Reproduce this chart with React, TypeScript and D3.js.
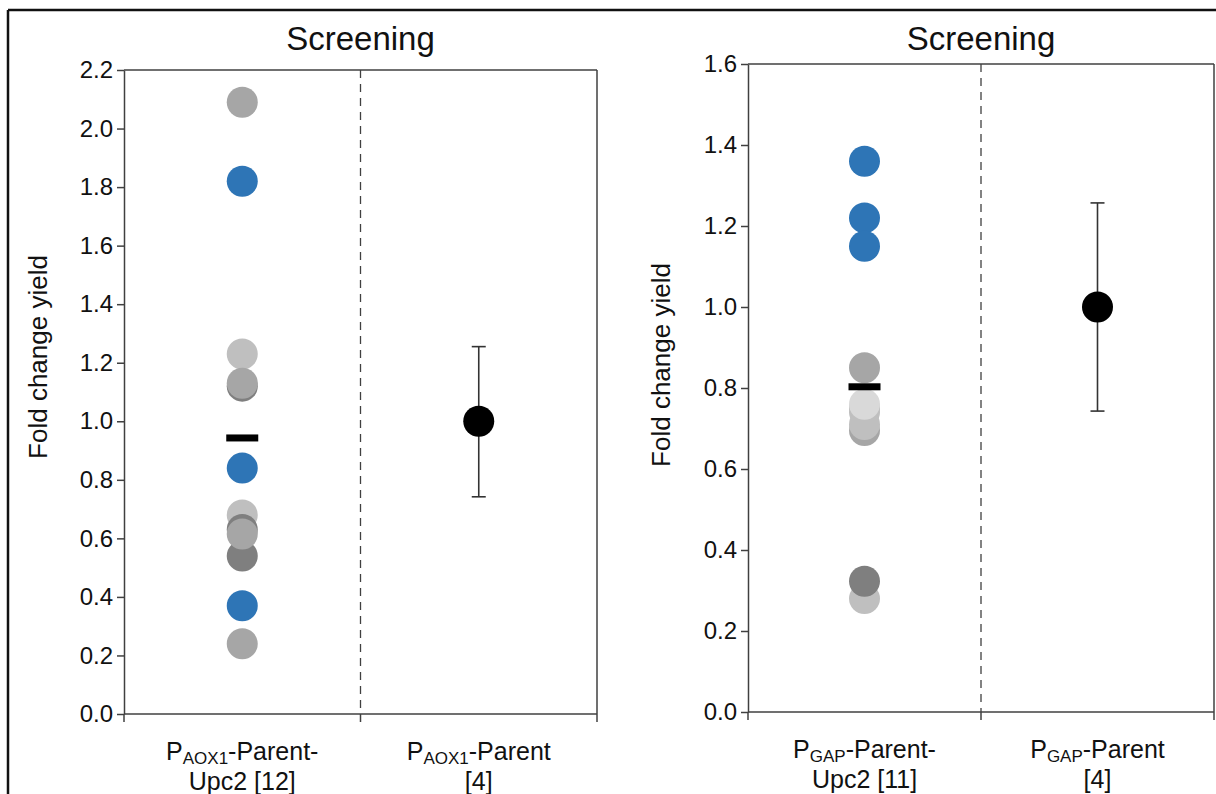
import React, { useEffect, useRef } from 'react';
import * as d3 from 'd3';

const W = 1216;
const H = 794;
const FONT = '"Liberation Sans", Arial, Helvetica, sans-serif';

const GRAY = '#a6a6a6';
const LIGHT = '#bfbfbf';
const PALE = '#d9d9d9';
const DARK = '#7f7f7f';
const BLUE = '#2e75b6';

// panel titles / labels
const panelTitles = ['Screening', 'Screening'];
const yAxisLabel = 'Fold change yield';

// left panel – P_AOX1
const aoxCategories = ['upc2', 'parent'];
const aoxTicks = [0, 0.2, 0.4, 0.6, 0.8, 1.0, 1.2, 1.4, 1.6, 1.8, 2.0, 2.2];
const aoxUpc2Values = [2.09, 1.82, 1.23, 1.12, 1.13, 0.84, 0.68, 0.54, 0.63, 0.615, 0.37, 0.24];
const aoxUpc2Colors = [GRAY, BLUE, LIGHT, DARK, GRAY, BLUE, LIGHT, DARK, DARK, GRAY, BLUE, GRAY];
const aoxUpc2Mean = 0.943;
const aoxParent = [1.0, 0.742, 1.255]; // mean, low, high
const aoxLabels = [['AOX1', '-Parent-', 'Upc2 [12]'], ['AOX1', '-Parent', '[4]']];

// right panel – P_GAP
const gapCategories = ['upc2', 'parent'];
const gapTicks = [0, 0.2, 0.4, 0.6, 0.8, 1.0, 1.2, 1.4, 1.6];
const gapUpc2Values = [1.36, 1.22, 1.15, 0.85, 0.74, 0.75, 0.695, 0.71, 0.76, 0.28, 0.323];
const gapUpc2Colors = [BLUE, BLUE, BLUE, GRAY, LIGHT, LIGHT, GRAY, LIGHT, PALE, LIGHT, DARK];
const gapUpc2Mean = 0.803;
const gapParent = [1.0, 0.743, 1.257];
const gapLabels = [['GAP', '-Parent-', 'Upc2 [11]'], ['GAP', '-Parent', '[4]']];

function drawPanel(svg, p) {
  const { x0, x1, top, bottom, max, ticks, cats, values, colors, mean, parent, labels, title, ylabelX, ylabelY } = p;
  const axisColor = '#404040';
  const g = svg.append('g');

  const x = d3.scaleBand().domain(cats).range([x0, x1]).padding(0);
  const y = d3.scaleLinear().domain([0, max]).range([bottom, top]);
  const cx = (c) => x(c) + x.bandwidth() / 2;

  // title
  g.append('text')
    .attr('x', (x0 + x1) / 2)
    .attr('y', 50)
    .attr('text-anchor', 'middle')
    .attr('font-size', 33)
    .attr('fill', '#111')
    .text(title);

  // y axis
  const yAxis = d3.axisLeft(y).tickValues(ticks).tickSize(7).tickSizeOuter(0).tickFormat(d3.format('.1f'));
  g.append('g')
    .attr('transform', `translate(${x0},0)`)
    .call(yAxis)
    .call(a => {
      a.select('.domain').attr('stroke', axisColor).attr('stroke-width', 1.5);
      a.selectAll('.tick line').attr('stroke', axisColor).attr('stroke-width', 1.5);
      a.selectAll('.tick text').attr('font-size', 24).attr('font-family', FONT).attr('fill', '#111').attr('x', -11);
    });

  // frame top / right
  g.append('line').attr('x1', x0).attr('x2', x1).attr('y1', top).attr('y2', top)
    .attr('stroke', axisColor).attr('stroke-width', 1.5);
  g.append('line').attr('x1', x1).attr('x2', x1).attr('y1', top).attr('y2', bottom)
    .attr('stroke', axisColor).attr('stroke-width', 1.5);

  // x axis with ticks at category boundaries
  g.append('line').attr('x1', x0).attr('x2', x1).attr('y1', bottom).attr('y2', bottom)
    .attr('stroke', axisColor).attr('stroke-width', 1.5);
  const bounds = [x0, ...cats.slice(1).map(c => x(c)), x1];
  bounds.forEach(b => {
    g.append('line').attr('x1', b).attr('x2', b).attr('y1', bottom).attr('y2', bottom + 8)
      .attr('stroke', axisColor).attr('stroke-width', 1.5);
  });

  // dashed divider
  cats.slice(1).forEach(c => {
    g.append('line').attr('x1', x(c)).attr('x2', x(c)).attr('y1', top).attr('y2', bottom)
      .attr('stroke', axisColor).attr('stroke-width', 1.3).attr('stroke-dasharray', '8,6');
  });

  // individual clones
  g.selectAll('circle.clone')
    .data(values)
    .enter()
    .append('circle')
    .attr('class', 'clone')
    .attr('cx', cx(cats[0]))
    .attr('cy', d => y(d))
    .attr('r', 15.5)
    .attr('fill', (d, i) => colors[i]);

  // mean bar
  g.append('rect')
    .attr('x', cx(cats[0]) - 16)
    .attr('y', y(mean) - 3.5)
    .attr('width', 32)
    .attr('height', 7)
    .attr('fill', '#000');

  // parent mean ± error
  const px = cx(cats[1]);
  const [pm, plo, phi] = parent;
  g.append('line').attr('x1', px).attr('x2', px).attr('y1', y(phi)).attr('y2', y(plo))
    .attr('stroke', '#333').attr('stroke-width', 1.6);
  [plo, phi].forEach(v => {
    g.append('line').attr('x1', px - 7).attr('x2', px + 7).attr('y1', y(v)).attr('y2', y(v))
      .attr('stroke', '#333').attr('stroke-width', 1.6);
  });
  g.append('circle').attr('cx', px).attr('cy', y(pm)).attr('r', 15.5).attr('fill', '#000');

  // category labels with subscript
  cats.forEach((c, i) => {
    const [sub, rest, line2] = labels[i];
    const t = g.append('text')
      .attr('x', cx(c))
      .attr('y', bottom + 46)
      .attr('text-anchor', 'middle')
      .attr('font-size', 25)
      .attr('fill', '#111');
    t.append('tspan').text('P');
    t.append('tspan').attr('font-size', 17).attr('dy', 4).text(sub);
    t.append('tspan').attr('dy', -4).text(rest);
    g.append('text')
      .attr('x', cx(c))
      .attr('y', bottom + 76)
      .attr('text-anchor', 'middle')
      .attr('font-size', 25)
      .attr('fill', '#111')
      .text(line2);
  });

  // y label
  g.append('text')
    .attr('transform', `translate(${ylabelX},${ylabelY}) rotate(-90)`)
    .attr('text-anchor', 'middle')
    .attr('font-size', 26)
    .attr('fill', '#111')
    .text(yAxisLabel);
}

const App = () => {
  const svgRef = useRef(null);

  useEffect(() => {
    const svg = d3.select(svgRef.current);
    svg.selectAll('*').remove();
    svg.attr('font-family', FONT);

    svg.append('rect').attr('width', W).attr('height', H).attr('fill', '#fff');

    // outer frame (top and left)
    svg.append('line').attr('x1', 8).attr('x2', W).attr('y1', 10).attr('y2', 10)
      .attr('stroke', '#111').attr('stroke-width', 2.5);
    svg.append('line').attr('x1', 8).attr('x2', 8).attr('y1', 10).attr('y2', H)
      .attr('stroke', '#111').attr('stroke-width', 2.5);

    drawPanel(svg, {
      x0: 124, x1: 597, top: 70, bottom: 714, max: 2.2, ticks: aoxTicks,
      cats: aoxCategories, values: aoxUpc2Values, colors: aoxUpc2Colors,
      mean: aoxUpc2Mean, parent: aoxParent, labels: aoxLabels, title: panelTitles[0],
      ylabelX: 47, ylabelY: 357
    });

    drawPanel(svg, {
      x0: 748, x1: 1214, top: 64, bottom: 712, max: 1.6, ticks: gapTicks,
      cats: gapCategories, values: gapUpc2Values, colors: gapUpc2Colors,
      mean: gapUpc2Mean, parent: gapParent, labels: gapLabels, title: panelTitles[1],
      ylabelX: 670, ylabelY: 365
    });
  }, []);

  return (
    <svg
      ref={svgRef}
      width={W}
      height={H}
      style={{ position: 'absolute', left: 0, top: 0, display: 'block' }}
    />
  );
};

export default App;
